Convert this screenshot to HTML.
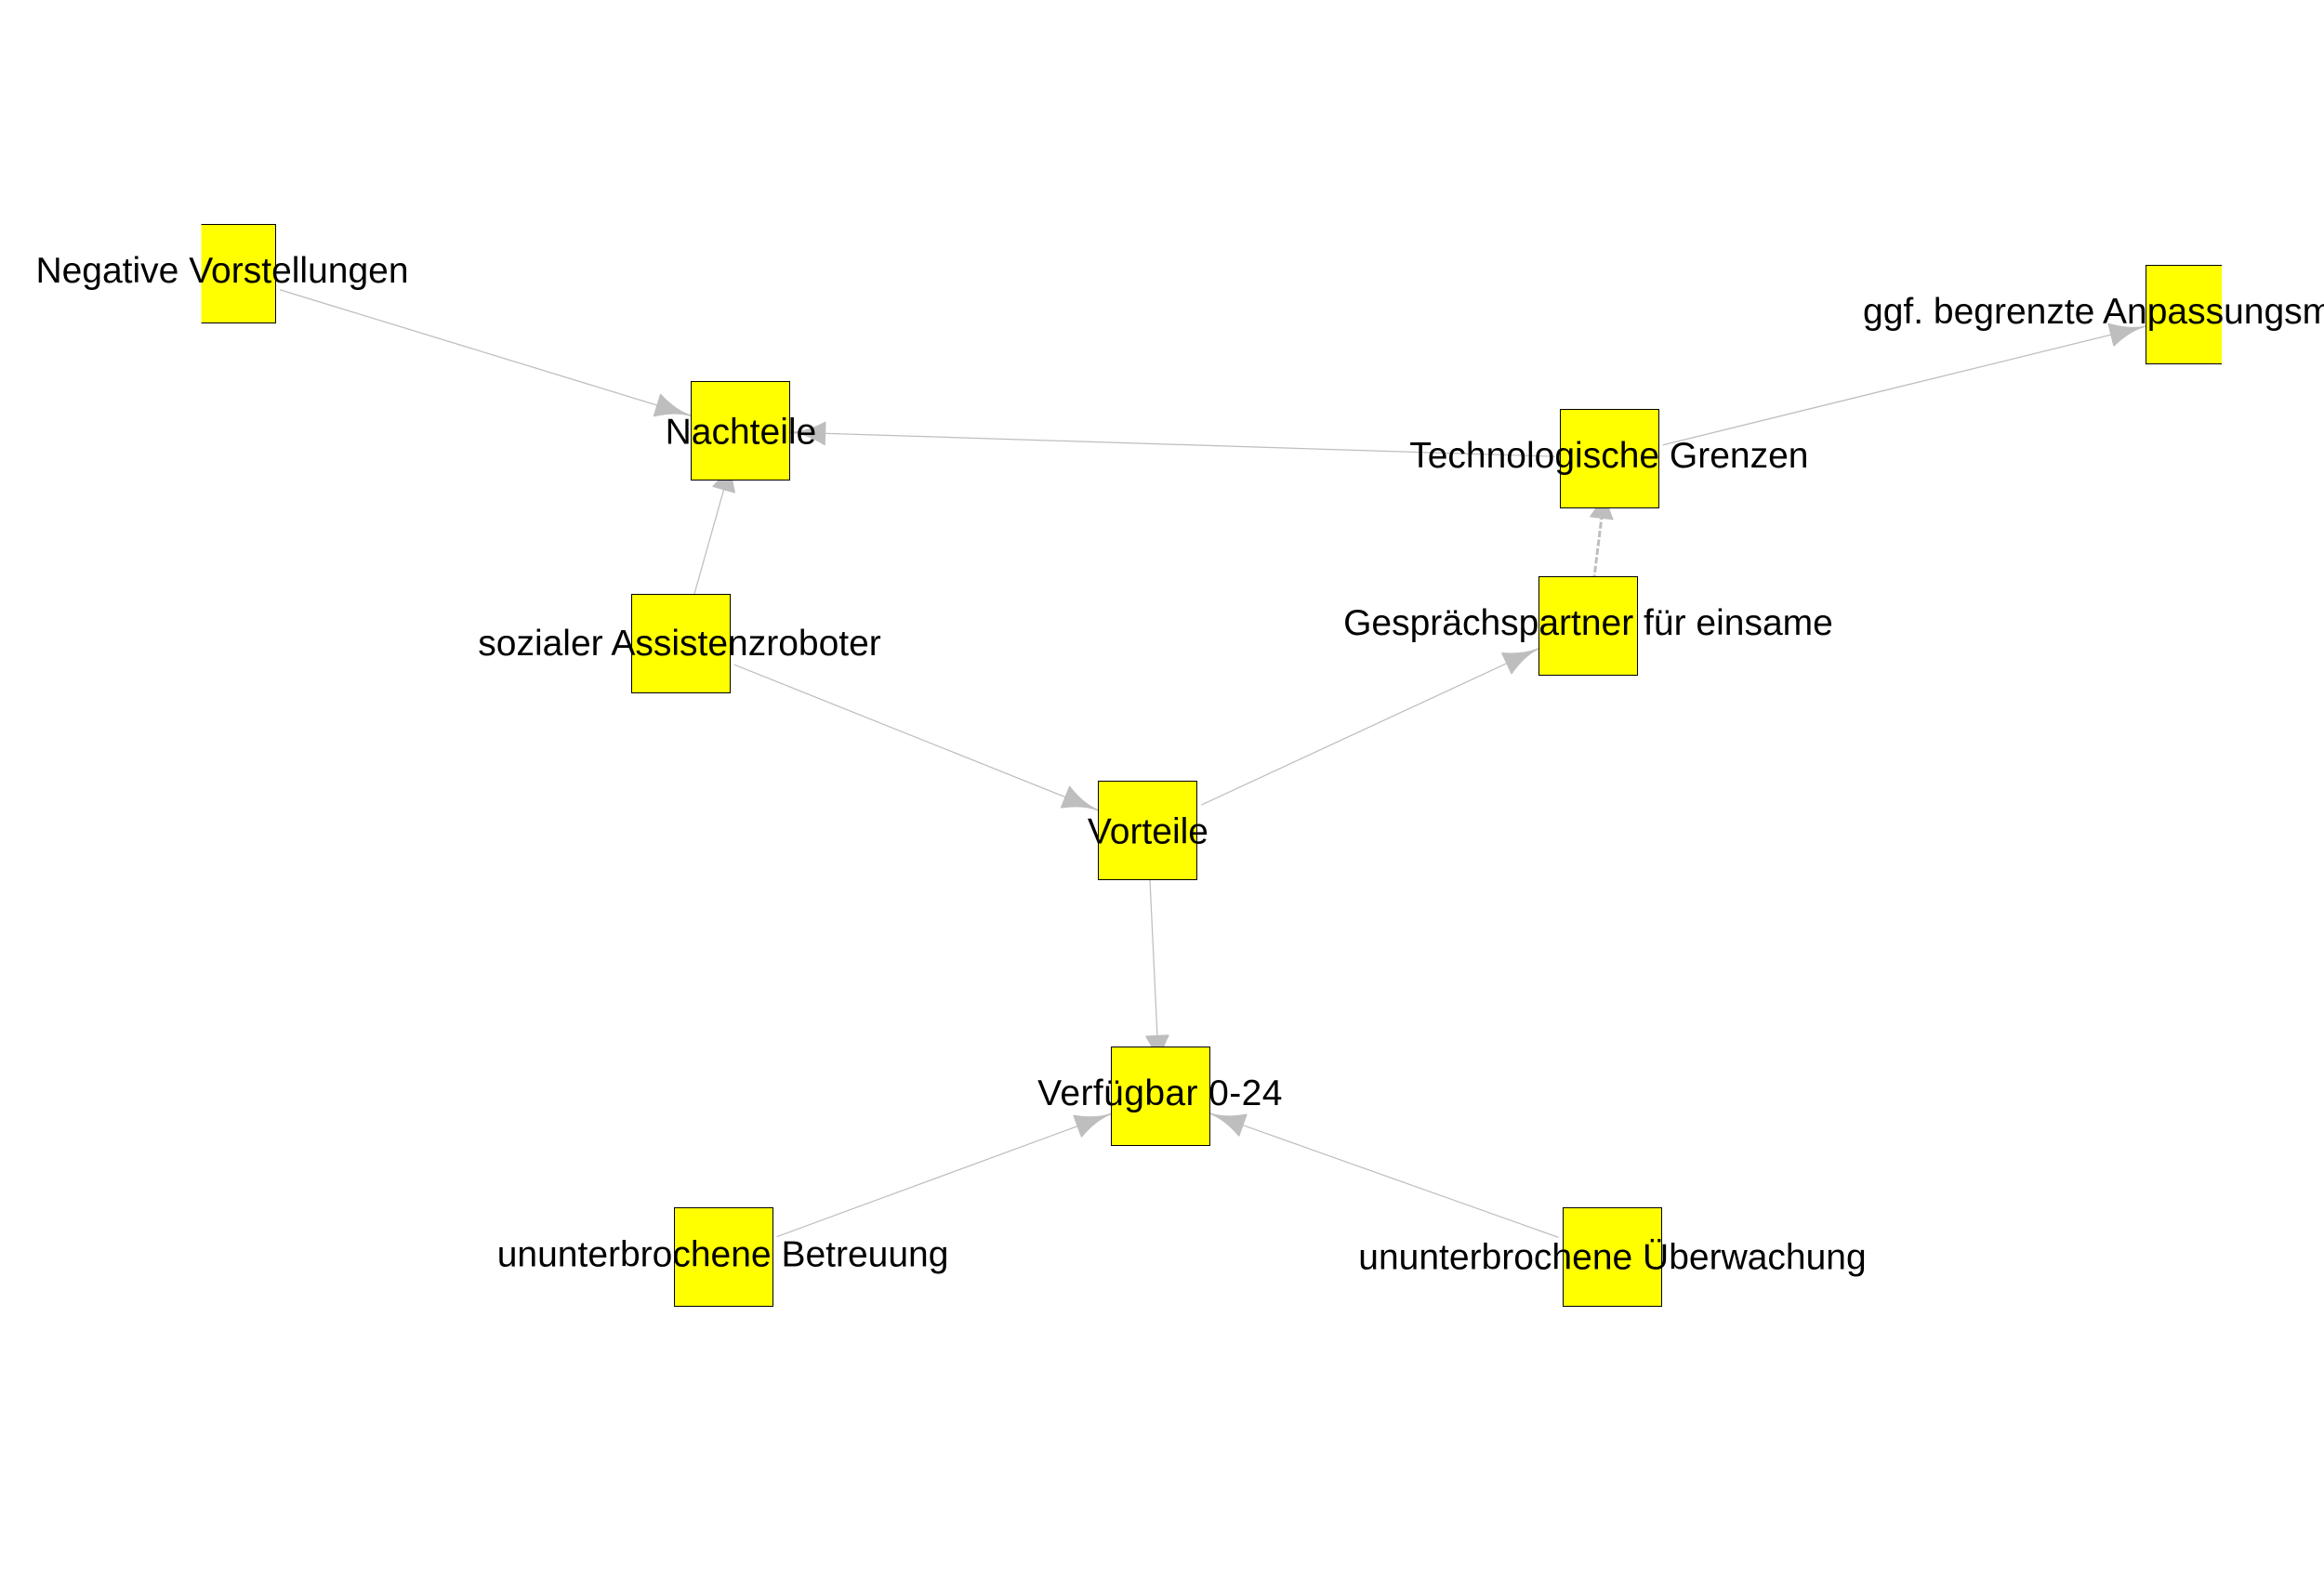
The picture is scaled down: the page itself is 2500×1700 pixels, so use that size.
<!DOCTYPE html>
<html lang="de">
<head>
<meta charset="utf-8">
<title>Netzwerk: sozialer Assistenzroboter</title>
<style>
  html, body { margin: 0; padding: 0; background: #ffffff; width: 2500px; height: 1700px; overflow: hidden; }
  svg { display: block; }
  text { font-family: "Liberation Sans", Arial, sans-serif; font-size: 39px; fill: #000000; }
</style>
</head>
<body>
<svg id="chart" xmlns="http://www.w3.org/2000/svg" width="2500" height="1700" viewBox="0 0 2500 1700">
  <rect x="0" y="0" width="2500" height="1700" fill="#ffffff"></rect>
  <defs>
    <clipPath id="plot-clip"><rect x="216.5" y="0" width="2173.5" height="1700"></rect></clipPath>
  </defs>
  <g id="edges"></g>
  <g id="nodes" clip-path="url(#plot-clip)"></g>
  <g id="labels"></g>
</svg>
<script>
// Graph data: node names and layout coordinates (0-100 layout units)
const nodeLabels = [
  "Negative Vorstellungen",
  "Nachteile",
  "sozialer Assistenzroboter",
  "Vorteile",
  "Verfügbar 0-24",
  "ununterbrochene Betreuung",
  "ununterbrochene Überwachung",
  "Gesprächspartner für einsame",
  "Technologische Grenzen",
  "ggf. begrenzte Anpassungsmöglichkeiten"
];
const nodeLayoutX = [0, 26.13, 23.09, 46.81, 47.45, 25.24, 70.42, 69.19, 70.25, 100];
const nodeLayoutY = [0, 16.01, 37.60, 56.59, 83.61, 99.95, 99.95, 35.81, 18.80, 4.16];
const edgeSources = [0, 8, 2, 2, 3, 3, 7, 8, 5, 6];
const edgeTargets = [1, 1, 1, 3, 7, 4, 8, 9, 4, 4];
const edgeDashed = [false, false, false, false, false, false, true, false, false, false];

// Axis functions
const PX_LEFT = 243, PX_PER_X = 21.18, PX_TOP = 294, PX_PER_Y = 10.585;
function scaleX(v) { return PX_LEFT + v * PX_PER_X; }
function scaleY(v) { return PX_TOP + v * PX_PER_Y; }

// Drawing constants
const NODE_HALF = 53;
const HEAD_LENGTH = 38, HEAD_HALF_WIDTH = 12;
const TARGET_CLIP_X = 53, TARGET_CLIP_Y = 26.5;
const SOURCE_CLIP_X = 58, SOURCE_CLIP_Y = 29;
const BASELINE_SHIFT = [10, 14, 13, 14.5, 10, 10.5, 13.5, 10, 10, 10];
const LABEL_SHIFT_X = [-4, 0.5, -1, 0.5, 0, 0, 0, 0, 0, 0];
const LABEL_TRACKING = [0, 0, 0, 0, 0.4, 0, 0, 0, 0, 0];
const SVG_NS = "http://www.w3.org/2000/svg";

const edgeLayer = document.getElementById("edges");
const nodeLayer = document.getElementById("nodes");
const labelLayer = document.getElementById("labels");

function clipFactor(dx, dy, hx, hy) {
  return Math.min(hx / Math.max(Math.abs(dx), 1e-6), hy / Math.max(Math.abs(dy), 1e-6));
}

edgeSources.forEach(function (s, i) {
  const t = edgeTargets[i];
  const x1 = scaleX(nodeLayoutX[s]), y1 = scaleY(nodeLayoutY[s]);
  const x2 = scaleX(nodeLayoutX[t]), y2 = scaleY(nodeLayoutY[t]);
  const dx = x2 - x1, dy = y2 - y1;
  const len = Math.hypot(dx, dy);
  const ux = dx / len, uy = dy / len;
  const fs = clipFactor(dx, dy, SOURCE_CLIP_X, SOURCE_CLIP_Y);
  const ft = clipFactor(dx, dy, TARGET_CLIP_X, TARGET_CLIP_Y);
  const sx = x1 + dx * fs, sy = y1 + dy * fs;
  const tipX = x2 - dx * ft, tipY = y2 - dy * ft;
  const baseX = tipX - ux * HEAD_LENGTH, baseY = tipY - uy * HEAD_LENGTH;
  const midX = tipX - ux * HEAD_LENGTH * 0.45, midY = tipY - uy * HEAD_LENGTH * 0.45;

  const line = document.createElementNS(SVG_NS, "line");
  
  
  line.setAttribute("x1", sx.toFixed(2));
  line.setAttribute("y1", sy.toFixed(2));
  line.setAttribute("x2", baseX.toFixed(2));
  line.setAttribute("y2", baseY.toFixed(2));
  line.setAttribute("stroke", "#bebebe");
  line.setAttribute("stroke-width", edgeDashed[i] ? "3" : "1.25");
  if (edgeDashed[i]) line.setAttribute("stroke-dasharray", "7 2.5");
  edgeLayer.appendChild(line);

  const b1x = baseX - uy * HEAD_HALF_WIDTH, b1y = baseY + ux * HEAD_HALF_WIDTH;
  const b2x = baseX + uy * HEAD_HALF_WIDTH, b2y = baseY - ux * HEAD_HALF_WIDTH;
  const head = document.createElementNS(SVG_NS, "path");
  
  
  head.setAttribute("d",
    "M" + tipX.toFixed(2) + " " + tipY.toFixed(2) +
    " Q" + midX.toFixed(2) + " " + midY.toFixed(2) + " " + b1x.toFixed(2) + " " + b1y.toFixed(2) +
    " L" + b2x.toFixed(2) + " " + b2y.toFixed(2) +
    " Q" + midX.toFixed(2) + " " + midY.toFixed(2) + " " + tipX.toFixed(2) + " " + tipY.toFixed(2) + "Z");
  head.setAttribute("fill", "#bebebe");
  head.setAttribute("stroke", "#bebebe");
  head.setAttribute("stroke-width", "1.5");
  head.setAttribute("stroke-linejoin", "round");
  edgeLayer.appendChild(head);
});

nodeLabels.forEach(function (name, i) {
  const cx = scaleX(nodeLayoutX[i]), cy = scaleY(nodeLayoutY[i]);

  const box = document.createElementNS(SVG_NS, "rect");
  
  
  box.setAttribute("x", Math.round(cx - NODE_HALF) + 0.5);
  box.setAttribute("y", Math.round(cy - NODE_HALF) + 0.5);
  box.setAttribute("width", NODE_HALF * 2);
  box.setAttribute("height", NODE_HALF * 2);
  box.setAttribute("fill", "#ffff00");
  box.setAttribute("stroke", "#000000");
  box.setAttribute("stroke-width", "1");
  nodeLayer.appendChild(box);

  const label = document.createElementNS(SVG_NS, "text");
  
  
  if (i === nodeLabels.length - 1) {
    label.setAttribute("x", 2004);
    label.setAttribute("text-anchor", "start");
  } else {
    label.setAttribute("x", (cx + LABEL_SHIFT_X[i]).toFixed(2));
    label.setAttribute("text-anchor", "middle");
  }
  label.setAttribute("y", (cy + BASELINE_SHIFT[i]).toFixed(2));
  label.setAttribute("letter-spacing", LABEL_TRACKING[i]);
  label.textContent = name;
  labelLayer.appendChild(label);
});
</script>
</body>
</html>
